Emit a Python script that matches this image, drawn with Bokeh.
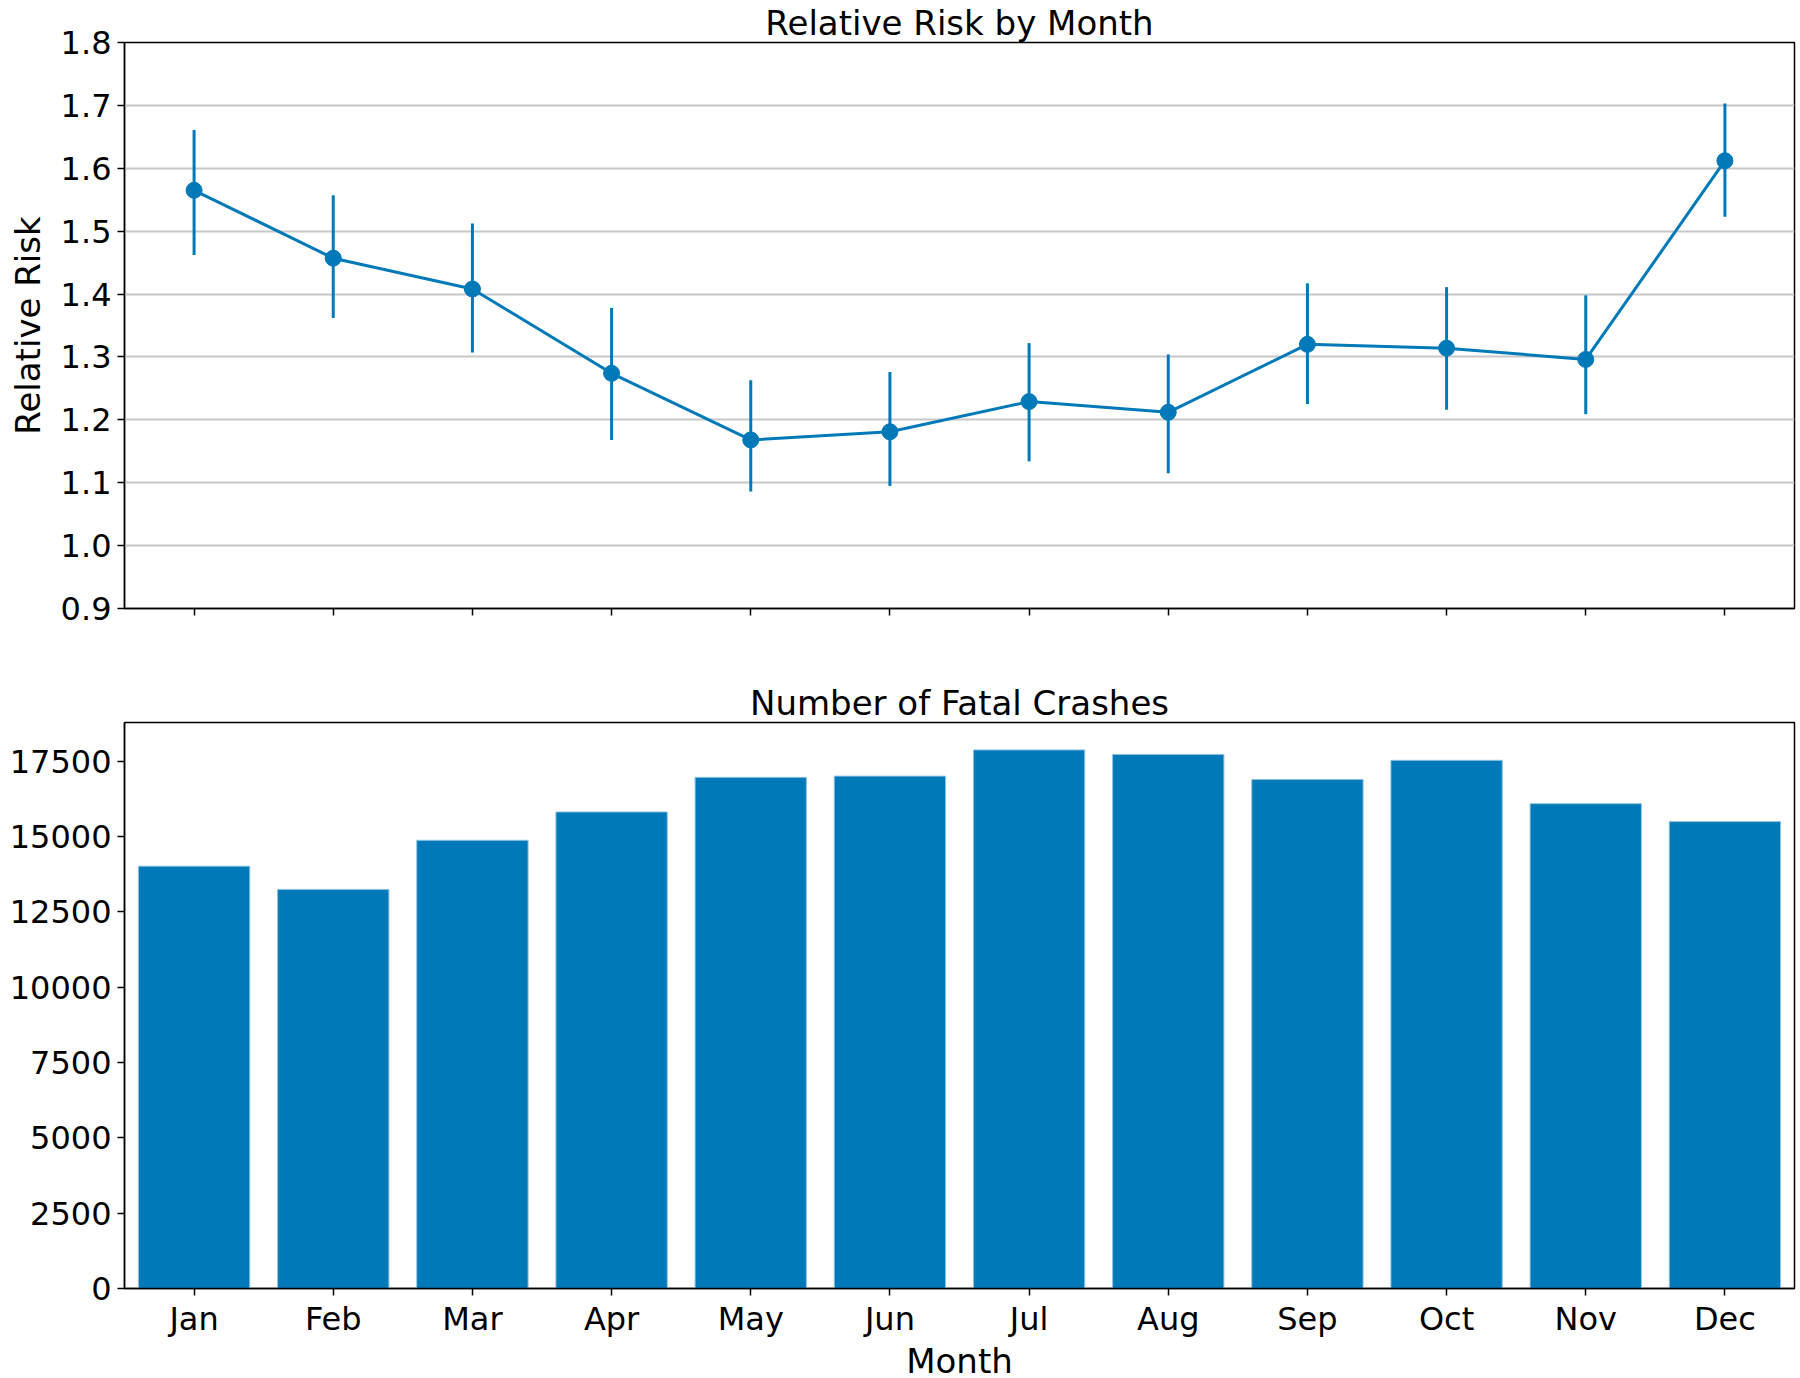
from bokeh.plotting import figure
from bokeh.layouts import column
from bokeh.models import Range1d, FixedTicker, NumeralTickFormatter
from bokeh.embed import file_html
from bokeh.resources import INLINE

months = ["Jan", "Feb", "Mar", "Apr", "May", "Jun", "Jul", "Aug", "Sep", "Oct", "Nov", "Dec"]
rel_risk = [1.565, 1.457, 1.408, 1.274, 1.168, 1.181, 1.229, 1.212, 1.320, 1.314, 1.296, 1.612]
rr_lower = [1.462, 1.362, 1.307, 1.168, 1.086, 1.095, 1.134, 1.115, 1.225, 1.216, 1.209, 1.523]
rr_upper = [1.661, 1.557, 1.512, 1.378, 1.263, 1.276, 1.322, 1.304, 1.417, 1.411, 1.398, 1.703]
crashes = [14020, 13250, 14880, 15820, 16970, 17010, 17880, 17730, 16900, 17535, 16095, 15500]
rr_ticks = [0.9, 1.0, 1.1, 1.2, 1.3, 1.4, 1.5, 1.6, 1.7, 1.8]
crash_ticks = [0, 2500, 5000, 7500, 10000, 12500, 15000, 17500]

BLUE = "#0079b9"
FONT = "DejaVu Sans"
xs = list(range(len(months)))


def style(p):
    p.title.text_font = FONT
    p.title.text_font_size = "34px"
    p.title.text_font_style = "normal"
    p.title.text_color = "black"
    p.title.align = "center"
    p.title.standoff = 0
    p.outline_line_color = "black"
    p.outline_line_width = 1.5
    p.background_fill_color = "white"
    p.border_fill_color = "white"
    for ax in (p.xaxis[0], p.yaxis[0]):
        ax.axis_line_color = "black"
        ax.axis_line_width = 1.5
        ax.major_tick_line_color = "black"
        ax.major_tick_line_width = 1.5
        ax.major_tick_out = 7
        ax.major_tick_in = 0
        ax.minor_tick_line_color = None
        ax.major_label_text_font = FONT
        ax.major_label_text_font_size = "32px"
        ax.major_label_text_color = "black"
        ax.axis_label_text_font = FONT
        ax.axis_label_text_font_size = "34px"
        ax.axis_label_text_font_style = "normal"
        ax.axis_label_text_color = "black"
        ax.major_label_standoff = 6
    p.xaxis.ticker = FixedTicker(ticks=xs)
    p.xgrid.grid_line_color = None


p1 = figure(frame_width=1670, frame_height=566, output_backend="svg", toolbar_location=None,
            x_range=Range1d(-0.5, 11.5), y_range=Range1d(0.9, 1.8),
            title="Relative Risk by Month",
            min_border_left=124, min_border_right=2, min_border_top=0, min_border_bottom=72)
style(p1)
p1.yaxis.ticker = FixedTicker(ticks=rr_ticks)
p1.yaxis.formatter = NumeralTickFormatter(format="0.0")
p1.yaxis.axis_label = "Relative Risk"
p1.yaxis.axis_label_standoff = 10
p1.xaxis.major_label_overrides = {i: "" for i in xs}
p1.ygrid.grid_line_color = "#c8c8c8"
p1.ygrid.grid_line_width = 2
p1.segment(x0=xs, y0=rr_lower, x1=xs, y1=rr_upper, line_color=BLUE, line_width=3)
p1.line(xs, rel_risk, line_color=BLUE, line_width=3)
p1.scatter(xs, rel_risk, size=16, fill_color=BLUE, line_color=BLUE)

p2 = figure(frame_width=1670, frame_height=566, output_backend="svg", toolbar_location=None,
            x_range=Range1d(-0.5, 11.5), y_range=Range1d(0, 18790),
            title="Number of Fatal Crashes",
            min_border_left=124, min_border_right=2, min_border_top=0, min_border_bottom=0)
style(p2)
p2.yaxis.ticker = FixedTicker(ticks=crash_ticks)
p2.xaxis.major_label_overrides = {i: m for i, m in enumerate(months)}
p2.xaxis.axis_label = "Month"
p2.xaxis.axis_label_standoff = 0
p2.xaxis.major_label_standoff = 4
p2.ygrid.grid_line_color = None
p2.vbar(x=xs, top=crashes, width=0.8, bottom=0, fill_color=BLUE, line_color="#8fc3e0", line_width=1)

layout = column(p1, p2, spacing=0)
open("out.html", "w").write(file_html(layout, INLINE))
